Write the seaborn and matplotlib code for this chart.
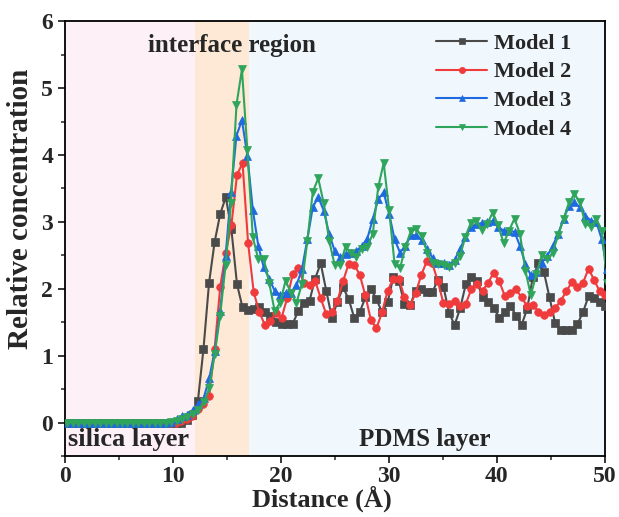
import numpy as np
import pandas as pd
import matplotlib
matplotlib.use("Agg")
import matplotlib.pyplot as plt
from matplotlib.ticker import MultipleLocator
import seaborn as sns

# Bin centres along the surface normal (Å); models 1-2 and 3-4 use different bin widths
dist_12 = np.round(0.42 + 0.517 * np.arange(98), 3)
dist_34 = np.round(0.23 + 0.505 * np.arange(100), 3)

model1 = [0.0] * 21 + [
    0.04, 0.12, 0.32, 1.10, 2.09, 2.70, 3.12, 3.37, 2.89, 2.07,
    1.72, 1.69, 1.70, 1.72, 1.65, 1.60, 1.51, 1.48, 1.48, 1.48,
    1.67, 1.79, 1.82, 2.15, 2.38, 1.97, 1.57, 1.80, 2.02, 1.85,
    1.57, 1.65, 1.87, 2.00, 1.84, 1.65, 1.80, 2.17, 2.12, 1.77,
    1.75, 1.97, 2.00, 1.95, 1.95, 2.13, 2.03, 1.64, 1.46, 1.71,
    2.07, 2.18, 2.11, 1.87, 1.80, 1.71, 1.57, 1.65, 1.74, 1.60,
    1.46, 1.70, 2.17, 2.38, 2.25, 1.87, 1.49, 1.38, 1.38, 1.38,
    1.47, 1.65, 1.89, 1.86, 1.80, 1.74, 1.70]

model2 = [0.0] * 20 + [
    0.02, 0.05, 0.10, 0.20, 0.27, 0.39, 1.10, 2.03, 2.54, 2.95,
    3.70, 3.88, 2.68, 1.95, 1.65, 1.46, 1.52, 1.64, 1.57, 1.86,
    2.22, 2.31, 2.08, 2.06, 2.12, 1.86, 1.62, 1.65, 1.82, 2.11,
    2.37, 2.36, 2.21, 1.90, 1.53, 1.41, 1.65, 1.97, 2.15, 2.15,
    1.88, 1.75, 1.93, 2.20, 2.41, 2.38, 2.11, 1.78, 1.77, 1.82,
    1.74, 1.77, 2.00, 2.07, 1.97, 2.09, 2.24, 2.11, 1.89, 1.94,
    1.99, 1.87, 1.74, 1.76, 1.66, 1.61, 1.66, 1.71, 1.82, 1.96,
    2.10, 2.02, 2.09, 2.30, 2.13, 1.96, 1.90, 1.85]

model3 = [0.0] * 19 + [
    0.01, 0.05, 0.10, 0.12, 0.19, 0.27, 0.37, 0.66, 1.07, 1.67,
    2.49, 3.45, 4.29, 4.52, 3.99, 3.18, 2.64, 2.32, 2.15, 1.97,
    1.91, 1.94, 1.94, 2.05, 2.29, 2.74, 3.22, 3.37, 3.17, 2.82,
    2.57, 2.47, 2.52, 2.54, 2.57, 2.64, 2.75, 3.04, 3.34, 3.44,
    3.12, 2.74, 2.54, 2.64, 2.80, 2.80, 2.73, 2.59, 2.46, 2.39,
    2.38, 2.36, 2.43, 2.59, 2.78, 2.92, 2.97, 2.98, 3.00, 3.01,
    2.92, 2.87, 2.87, 2.85, 2.64, 2.37, 2.20, 2.25, 2.39, 2.49,
    2.64, 2.82, 3.05, 3.24, 3.29, 3.22, 3.09, 3.02, 3.00, 2.74,
    2.30]

model4 = [0.0] * 19 + [
    0.01, 0.03, 0.06, 0.09, 0.13, 0.19, 0.30, 0.51, 1.02, 1.60,
    2.35, 3.28, 4.75, 5.28, 4.07, 2.77, 2.44, 2.45, 2.09, 1.67,
    1.79, 2.12, 1.94, 1.79, 2.07, 2.72, 3.45, 3.65, 3.28, 2.72,
    2.36, 2.35, 2.63, 2.53, 2.48, 2.60, 2.63, 2.82, 3.52, 3.88,
    3.18, 2.37, 2.31, 2.62, 2.87, 2.89, 2.79, 2.54, 2.38, 2.37,
    2.36, 2.32, 2.38, 2.49, 2.78, 2.99, 3.02, 2.88, 2.97, 3.14,
    2.95, 2.68, 2.87, 3.05, 2.82, 2.27, 1.90, 2.22, 2.50, 2.44,
    2.54, 2.80, 3.04, 3.29, 3.42, 3.29, 2.97, 2.93, 3.04, 2.87,
    2.09]

models = ["Model 1", "Model 2", "Model 3", "Model 4"]
colors = ["#4a4a4a", "#ef3b3b", "#1f6ae0", "#2fa55c"]
marker_shapes = ["s", "o", "^", "v"]

# layer boundaries (Å) and their shading
regions = [(0, 12, "#fdf0f6"), (12, 17, "#fde9d6"), (17, 50, "#f0f8fd")]

frames = []
for name, xs, ys in zip(models,
                        [dist_12, dist_12, dist_34, dist_34],
                        [model1, model2, model3, model4]):
    frames.append(pd.DataFrame({"Distance": xs, "Concentration": ys, "Model": name}))
df = pd.concat(frames, ignore_index=True)

sns.set_style("ticks")
plt.rcParams["font.family"] = ["Liberation Serif", "DejaVu Serif"]
plt.rcParams["font.weight"] = "bold"
plt.rcParams["axes.labelweight"] = "bold"

fig = plt.figure(figsize=(6.19, 5.17), dpi=100)
ax = fig.add_axes([0.105, 0.118, 0.872, 0.841])

for x0, x1, c in regions:
    ax.axvspan(x0, x1, color=c, lw=0, zorder=0)

sns.lineplot(data=df, x="Distance", y="Concentration", hue="Model", style="Model",
             hue_order=models, style_order=models,
             palette=dict(zip(models, colors)),
             markers=dict(zip(models, marker_shapes)), dashes=False,
             sort=True, errorbar=None, estimator=None, legend=False,
             linewidth=1.5, markersize=5.5, ax=ax, zorder=3)

data_lines = ax.lines[:4]
for ln in data_lines:
    ln.set_markeredgecolor(ln.get_color())
    ln.set_markerfacecolor(ln.get_color())
    ln.set_markeredgewidth(0.5)

ax.set_xlim(0, 50)
ax.set_ylim(-0.5, 6)
ax.xaxis.set_major_locator(MultipleLocator(10))
ax.xaxis.set_minor_locator(MultipleLocator(5))
ax.yaxis.set_major_locator(MultipleLocator(1))
ax.yaxis.set_minor_locator(MultipleLocator(0.5))
ax.tick_params(which="major", direction="out", length=5, width=1.3, labelsize=17,
               top=False, right=False)
ax.tick_params(axis="x", which="major", pad=2)
ax.tick_params(which="minor", direction="out", length=3, width=1.1, top=False, right=False)
for lab in ax.get_xticklabels() + ax.get_yticklabels():
    lab.set_fontweight("bold")
for sp in ax.spines.values():
    sp.set_visible(True)
    sp.set_linewidth(1.3)
    sp.set_color("black")

ax.set_xlabel("Distance (Å)", fontsize=19, fontweight="bold")
ax.set_ylabel("Relative concentration", fontsize=21, fontweight="bold")
ax.xaxis.set_label_coords(0.476, -0.068)
ax.yaxis.set_label_coords(-0.058, 0.568)

ax.text(5.85, -0.26, "silica layer", fontsize=19, fontweight="bold", ha="center", va="center", zorder=4)
ax.text(33.3, -0.26, "PDMS layer", fontsize=18, fontweight="bold", ha="center", va="center", zorder=4)
ax.text(15.45, 5.63, "interface region", fontsize=18, fontweight="bold", ha="center", va="center", zorder=4)

leg = ax.legend(handles=data_lines, labels=models, loc="upper right",
                bbox_to_anchor=(0.975, 1.018), frameon=False,
                handlelength=2.3, handletextpad=0.3, labelspacing=0.36,
                prop={"weight": "bold", "size": 16})
for h in leg.legend_handles:
    h.set_markersize(4.5)

fig.savefig("out.png", dpi=100)
